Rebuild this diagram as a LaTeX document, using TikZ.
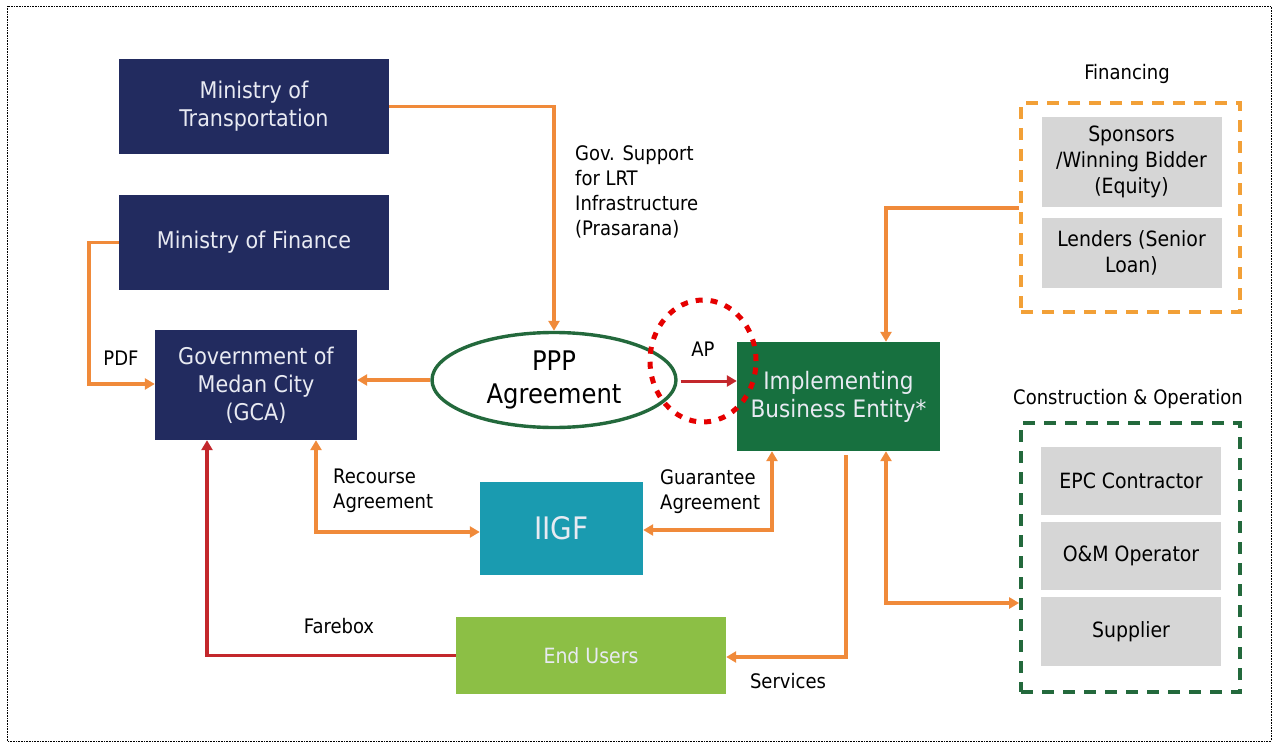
\documentclass[tikz,border=0pt]{standalone}
\usepackage{fontspec}
\setmainfont{DejaVu Sans Condensed}
\usetikzlibrary{arrows.meta,shapes.geometric}

\definecolor{govnavy}{HTML}{222B5F}
\definecolor{entgreen}{HTML}{17703F}
\definecolor{ringgreen}{HTML}{23693C}
\definecolor{iigfblue}{HTML}{1A9BB0}
\definecolor{userlime}{HTML}{8CBF45}
\definecolor{flowor}{HTML}{F08A3A}
\definecolor{dashor}{HTML}{F2A037}
\definecolor{flowred}{HTML}{C3272C}
\definecolor{partgray}{HTML}{D6D6D6}
\definecolor{softwhite}{HTML}{E8EAF2}

\tikzset{
  govbox/.style={rectangle,fill=govnavy,text=softwhite,align=center,inner sep=0pt,
    font=\fontsize{23}{28}\selectfont},
  partbox/.style={rectangle,fill=partgray,align=center,inner sep=0pt,minimum width=180pt,
    font=\fontsize{21}{26}\selectfont},
  note/.style={align=left,inner sep=0pt,font=\fontsize{20}{25}\selectfont},
  flow/.style={draw=flowor,line width=3.4pt,-{Triangle[length=10pt,width=11pt]}},
  twoflow/.style={flow,{Triangle[length=10pt,width=11pt]}-{Triangle[length=10pt,width=11pt]}},
  redflow/.style={draw=flowred,line width=3.6pt,-{Triangle[length=10pt,width=11pt]}}
}

\begin{document}
\begin{tikzpicture}[x=1pt,y=-1pt]

  \useasboundingbox (0,0) rectangle (1276,743);
  \draw[densely dotted,line width=0.6pt] (7,6) rectangle (1271,741);

  \node[govbox,minimum width=270pt,minimum height=95pt] (mot) at (254,106.5) {Ministry of\\Transportation};
  \node[govbox,minimum width=270pt,minimum height=95pt] (mof) at (254,242.5) {Ministry of Finance};
  \node[govbox,minimum width=202pt,minimum height=110pt] (gca) at (256,385) {Government of\\Medan City\\(GCA)};

  \node[ellipse,draw=ringgreen,line width=3.4pt,fill=white,minimum width=244pt,minimum height=95pt,
    inner sep=0pt,align=center,font=\fontsize{27}{33}\selectfont] (ppp) at (554,380) {PPP\\Agreement};

  \node[rectangle,fill=entgreen,text=softwhite,minimum width=203pt,minimum height=109pt,inner sep=0pt,
    align=center,font=\fontsize{24}{28}\selectfont] (ibe) at (838.5,396.5) {Implementing\\Business Entity*};

  \node[rectangle,fill=iigfblue,text=softwhite,minimum width=163pt,minimum height=93pt,
    font=\fontsize{31}{36}\selectfont] (iigf) at (561.5,528.5) {IIGF};

  \node[rectangle,fill=userlime,text=softwhite,minimum width=270pt,minimum height=77pt,
    font=\fontsize{21}{26}\selectfont] (users) at (591,655.5) {End Users};

  % financing side
  \node[rectangle,draw=dashor,line width=3.8pt,dash pattern=on 12pt off 9pt,
    minimum width=219pt,minimum height=209pt] (fin) at (1130.5,207.5) {};
  \node[font=\fontsize{20}{24}\selectfont,inner sep=0pt] (finlbl) at (1127,74) {Financing};
  \node[partbox,minimum height=90pt] (spons) at (1131.5,162) {Sponsors\\/Winning Bidder\\(Equity)};
  \node[partbox,minimum height=70pt] (lend) at (1131.5,253) {Lenders (Senior\\Loan)};

  % construction side
  \node[rectangle,draw=ringgreen,line width=3.8pt,dash pattern=on 12pt off 9pt,
    minimum width=219pt,minimum height=269pt] (con) at (1130.5,557.5) {};
  \node[font=\fontsize{20}{24}\selectfont,inner sep=0pt] (conlbl) at (1128,399) {Construction \& Operation};
  \node[partbox,minimum height=68pt] (epc) at (1131,481) {EPC Contractor};
  \node[partbox,minimum height=68pt] (om) at (1131,556) {O\&M Operator};
  \node[partbox,minimum height=69pt] (sup) at (1131,631.5) {Supplier};

  % flows
  \draw[flow] (mot.east) -| (ppp.north);
  \draw[flow] (mof.west) -- ++(-30,0) |- (gca.west |- 0,384);
  \draw[flow] (ppp.west) -- (ppp.west -| gca.east);
  \draw[twoflow] (gca.south -| 316,0) |- (iigf.west |- 0,532);
  \draw[twoflow] (iigf.east |- 0,530) -| (ibe.south -| 772,0);
  \draw[flow] (846,455) |- (users.east |- 0,657);
  \draw[redflow] (users.west) -| (gca.south -| 207,0);
  \draw[flow] (fin.west |- 0,208) -| (ibe.north -| 886,0);
  \draw[twoflow] (ibe.south -| 886,0) |- (con.west |- 0,603);
  \draw[redflow,line width=3pt] (ppp.east |- 0,381) ++(3,0) -- (ibe.west |- 0,381);

  % labels
  \node[note,anchor=north west] (govlbl) at (575,145) {Gov. Support\\for LRT\\Infrastructure\\(Prasarana)};
  \node[note,anchor=center] (pdflbl) at (121,358) {PDF};
  \node[note,anchor=north west] (reclbl) at (333,469) {Recourse\\Agreement};
  \node[note,anchor=north west] (guarlbl) at (660,469) {Guarantee\\Agreement};
  \node[note,anchor=center] (farelbl) at (339,626) {Farebox};
  \node[note,anchor=center] (servlbl) at (788,681) {Services};
  \node[note,anchor=center] (aplbl) at (703,349) {AP};

  \draw[draw=red!90!black,line width=5pt,dash pattern=on 7pt off 8pt] (aplbl) ++(0,12) ellipse [x radius=53pt,y radius=61pt];

\end{tikzpicture}
\end{document}
